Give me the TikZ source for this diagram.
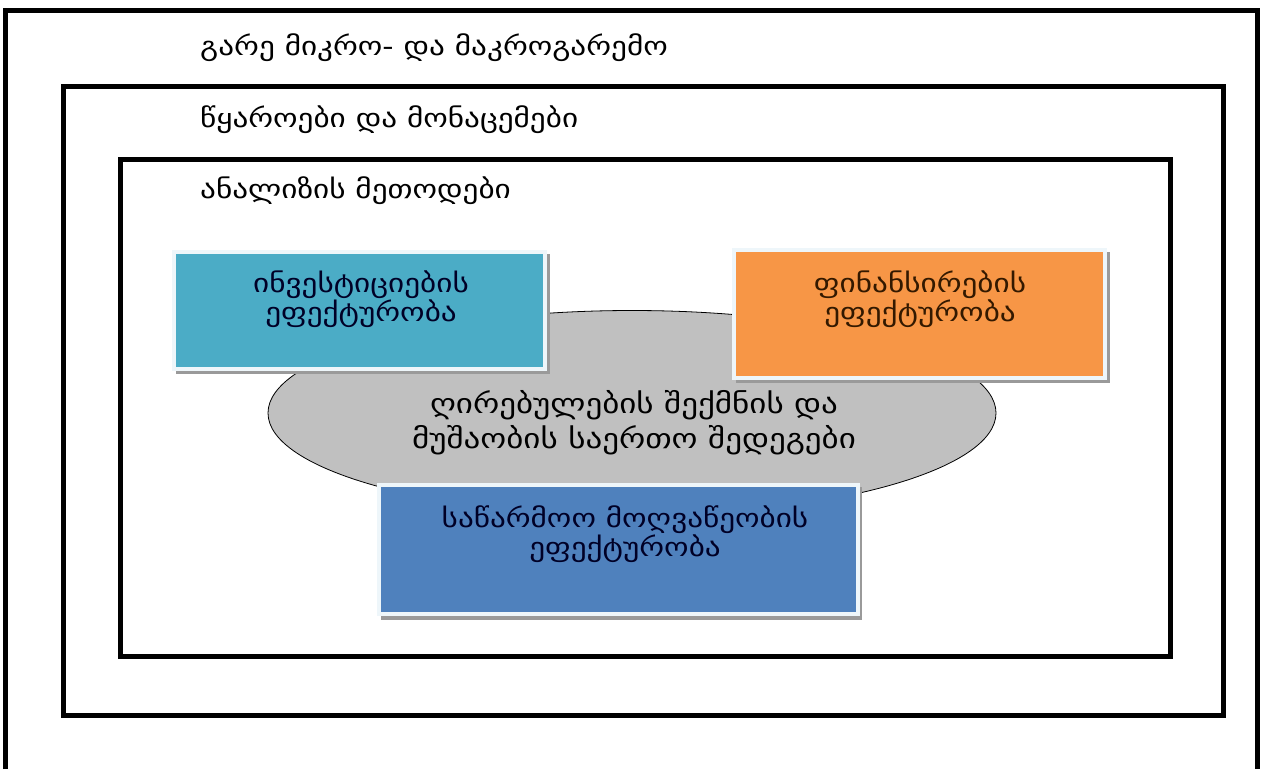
\documentclass[tikz,border=0pt]{standalone}
\usepackage{fontspec}
\usetikzlibrary{shapes.geometric}
\newfontfamily\geo[FakeStretch=1.2]{DejaVu Sans}
\definecolor{tealbox}{HTML}{4BACC6}
\definecolor{orangebox}{HTML}{F79646}
\definecolor{bluebox}{HTML}{4F81BD}
\definecolor{ellgray}{HTML}{C0C0C0}
\definecolor{boxedge}{HTML}{EEF6FA}
\definecolor{shadowgray}{HTML}{9A9A9A}
\tikzset{
  frame/.style={line width=5pt},
  title/.style={anchor=base west, inner sep=0pt, font=\geo\fontsize{26}{30}\selectfont},
  cbox/.style={draw=boxedge, line width=4pt, inner sep=0pt},
  boxtext/.style={align=center, inner sep=0pt, font=\geo\fontsize{26}{27}\selectfont},
}
\begin{document}
\begin{tikzpicture}[x=1pt,y=-1pt]
\useasboundingbox (0,0) rectangle (1265,769);
% frames
\draw[frame] (5.5,769) -- (5.5,10.5) -- (1257.5,10.5) -- (1257.5,769);
\draw[frame] (63.5,86.5) rectangle (1223.5,715.5);
\draw[frame] (120.5,159.5) rectangle (1170.5,656.5);
% titles
\node[title] (t1) at (200,55) {გარე მიკრო- და მაკროგარემო};
\node[title] (t2) at (200,127) {წყაროები და მონაცემები};
\node[title] (t3) at (200,198) {ანალიზის მეთოდები};
% ellipse
\node[draw=black, line width=0.8pt, fill=ellgray, ellipse, minimum width=728pt, minimum height=205pt, inner sep=0pt] (ell) at (632,413) {};
\node[align=center, inner sep=0pt, font=\geo\fontsize{27.5}{35}\selectfont] (elltext) at (634,423) {ღირებულების შექმნის და\\მუშაობის საერთო შედეგები};
% teal box
\fill[shadowgray] (176,254) rectangle (550,374);
\draw[cbox, fill=tealbox] (174,252) rectangle (545,369);
\node[boxtext, text=black!85!blue] (tbt) at (361,299) {ინვესტიციების\\ეფექტურობა};
% orange box
\fill[shadowgray] (736,252) rectangle (1110,383);
\draw[cbox, fill=orangebox] (734,250) rectangle (1105,378);
\node[boxtext, text=black!80!orange] (obt) at (920,299) {ფინანსირების\\ეფექტურობა};
% blue box
\fill[shadowgray] (381,487) rectangle (862,620);
\draw[cbox, fill=bluebox] (379,485) rectangle (858,614);
\node[boxtext, text=black!85!blue] (bbt) at (625,534) {საწარმოო მოღვაწეობის\\ეფექტურობა};
\end{tikzpicture}
\end{document}
